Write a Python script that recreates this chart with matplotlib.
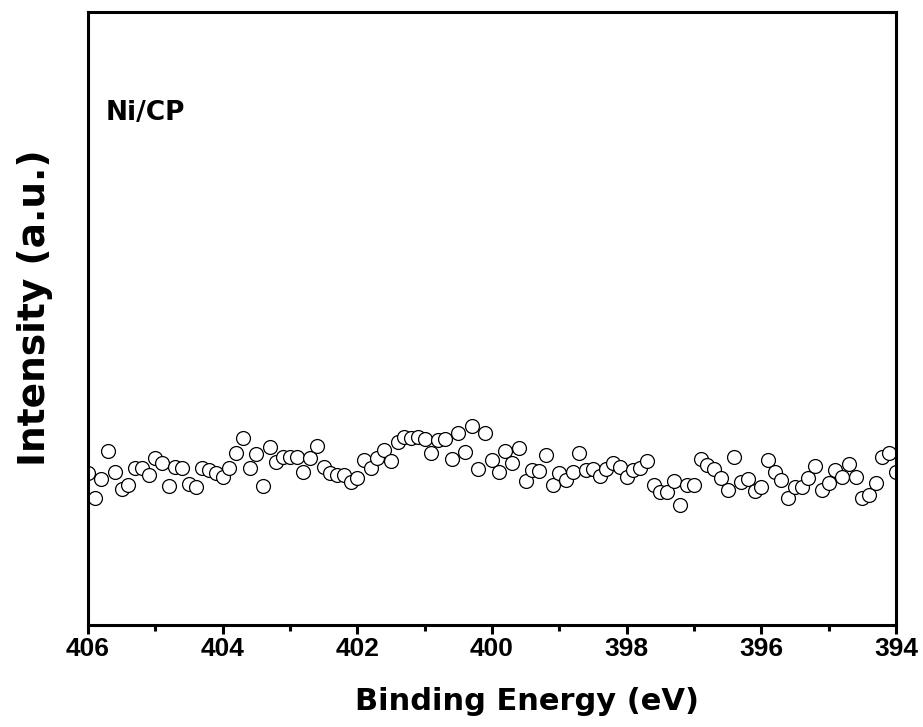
import matplotlib
matplotlib.use("Agg")
import matplotlib.pyplot as plt
import numpy as np
from matplotlib.ticker import MultipleLocator

# binding energy grid, 406 -> 394 eV in 0.1 eV steps
energy = np.round(np.arange(406.0, 393.95, -0.1), 1)

# intensity (arbitrary units)
intensity = [
    152, 127, 146, 174, 153, 136, 140, 157, 157, 150,
    167, 162, 139, 158, 157, 141, 138, 157, 155, 152,
    148, 157, 172, 187, 157, 171, 139, 178, 163, 168,
    168, 168, 153, 167, 179, 158, 152, 150, 150, 143,
    147, 165, 157, 167, 175, 164, 183, 188, 187, 188,
    186, 172, 185, 186, 166, 192, 173, 199, 156, 192,
    165, 153, 174, 162, 177, 144, 155, 154, 170, 140,
    152, 145, 153, 172, 155, 156, 149, 156, 162, 158,
    148, 155, 157, 164, 140, 133, 133, 144, 120, 140,
    140, 166, 160, 156, 147, 135, 168, 143, 146, 134,
    138, 165, 153, 145, 127, 138, 138, 147, 159, 135,
    142, 155, 148, 161, 148, 127, 130, 142, 168, 172,
    153,
]

sample_label = "Ni/CP"
x_label = "Binding Energy (eV)"
y_label = "Intensity (a.u.)"

fig = plt.figure(figsize=(9.23, 7.27), dpi=100)
ax = fig.add_axes([0.0953, 0.1403, 0.8754, 0.8432])

ax.plot(energy, intensity, linestyle="none", marker="o", ms=10,
        mfc="white", mec="black", mew=0.9)

ax.set_xlim(406, 394)
ax.set_ylim(0, 613)
ax.xaxis.set_major_locator(MultipleLocator(2))
ax.xaxis.set_minor_locator(MultipleLocator(1))
ax.set_yticks([])

for s in ax.spines.values():
    s.set_linewidth(2.2)

ax.tick_params(axis="x", which="major", direction="out", length=6.5, width=2.2,
               pad=2, top=False)
ax.tick_params(axis="x", which="minor", direction="out", length=4, width=2.2,
               top=False)
for lab in ax.get_xticklabels():
    lab.set_family(["Liberation Sans", "DejaVu Sans"])
    lab.set_fontweight("bold")
    lab.set_fontsize(19)

ax.set_xlabel(x_label, family="DejaVu Sans", fontweight="bold",
              fontsize=22, va="center")
ax.xaxis.set_label_coords(0.543, -0.124)
ax.set_ylabel(y_label, family="DejaVu Sans", fontweight="bold",
              fontsize=27, va="center")
ax.yaxis.set_label_coords(-0.066, 0.518)

ax.text(0.022, 0.835, sample_label, transform=ax.transAxes,
        family="DejaVu Sans", fontweight="bold", fontsize=19,
        va="center", ha="left")

fig.savefig("out.png", dpi=100)
